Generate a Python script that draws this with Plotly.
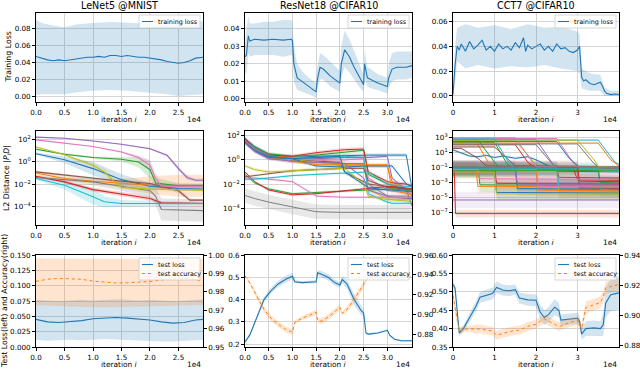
import plotly.graph_objects as go

TAB10 = ["#1f77b4", "#ff7f0e", "#2ca02c", "#d62728", "#9467bd",
         "#8c564b", "#e377c2", "#7f7f7f", "#bcbd22", "#17becf"]
BLUE, ORANGE = TAB10[0], TAB10[1]

TITLES = ["LeNet5 @MNIST", "ResNet18 @CIFAR10", "CCT7 @CIFAR10"]
# x values are in units of 1e4 iterations
X_MAX = [2.93, 3.52, 4.0]
X_TICKS = [[0, 0.5, 1.0, 1.5, 2.0, 2.5], [0, 0.5, 1.0, 1.5, 2.0, 2.5, 3.0], [0, 1, 2, 3]]
X_TICKTEXT = [["0.0", "0.5", "1.0", "1.5", "2.0", "2.5"],
              ["0.0", "0.5", "1.0", "1.5", "2.0", "2.5", "3.0"],
              ["0", "1", "2", "3"]]

# ---------------- row 1: training loss ----------------
lenet_x = [0.0, 0.1, 0.2, 0.3, 0.4, 0.5, 0.6, 0.7, 0.8, 0.9,
           1.0, 1.1, 1.2, 1.3, 1.4, 1.5, 1.6, 1.7, 1.8, 1.9,
           2.0, 2.1, 2.2, 2.3, 2.4, 2.5, 2.6, 2.7, 2.8, 2.93]
lenet_loss = [0.047, 0.045, 0.043, 0.042, 0.043, 0.042, 0.043, 0.044, 0.045, 0.046,
              0.046, 0.047, 0.046, 0.048, 0.048, 0.047, 0.048, 0.047, 0.046, 0.046,
              0.045, 0.044, 0.043, 0.041, 0.040, 0.039, 0.040, 0.042, 0.045, 0.046]
lenet_band_x = [0.0, 0.1, 0.3, 0.5, 0.7, 1.0, 1.3, 1.6, 2.0, 2.3, 2.5, 2.7, 2.93]
lenet_band_hi = [0.090, 0.086, 0.083, 0.081, 0.084, 0.086, 0.087, 0.086, 0.085, 0.084, 0.086, 0.087, 0.088]
lenet_band_lo = [0.002, 0.003, 0.003, 0.003, 0.005, 0.007, 0.008, 0.007, 0.005, 0.003, 0.001, 0.002, 0.003]

resnet_x = [0, 0.03, 0.07, 0.1, 0.2, 0.4, 0.6, 0.8, 0.98, 1.0,
            1.03, 1.1, 1.2, 1.3, 1.4, 1.5, 1.52, 1.58, 1.65, 1.8,
            2.0, 2.03, 2.1, 2.2, 2.3, 2.4, 2.5, 2.52, 2.55, 2.58,
            2.65, 2.8, 3.0, 3.03, 3.1, 3.2, 3.4, 3.52]
resnet_loss = [0.024, 0.025, 0.036, 0.033, 0.034, 0.0335, 0.034, 0.0335, 0.034, 0.033,
               0.020, 0.012, 0.010, 0.008, 0.006, 0.004, 0.010, 0.018, 0.017, 0.013,
               0.009, 0.020, 0.028, 0.024, 0.018, 0.013, 0.008, 0.020, 0.016, 0.012,
               0.011, 0.009, 0.007, 0.012, 0.017, 0.018, 0.018, 0.019]
resnet_band_hi = [0.030, 0.040, 0.047, 0.043, 0.043, 0.044, 0.044, 0.045, 0.045, 0.044,
                  0.030, 0.020, 0.016, 0.013, 0.011, 0.009, 0.017, 0.026, 0.025, 0.021,
                  0.016, 0.030, 0.039, 0.034, 0.027, 0.021, 0.014, 0.028, 0.023, 0.018,
                  0.017, 0.014, 0.012, 0.020, 0.026, 0.027, 0.027, 0.027]
resnet_band_lo = [0.015, 0.014, 0.026, 0.024, 0.025, 0.025, 0.025, 0.024, 0.025, 0.024,
                  0.010, 0.005, 0.004, 0.003, 0.002, 0.0005, 0.005, 0.011, 0.011, 0.007,
                  0.004, 0.012, 0.018, 0.015, 0.011, 0.007, 0.004, 0.012, 0.010, 0.007,
                  0.006, 0.005, 0.003, 0.006, 0.010, 0.011, 0.011, 0.012]

cct_x = [0, 0.05, 0.1, 0.15, 0.2, 0.3, 0.4, 0.5, 0.6, 0.7,
         0.8, 0.9, 1.0, 1.1, 1.2, 1.3, 1.4, 1.5, 1.6, 1.7,
         1.75, 1.8, 1.9, 2.0, 2.1, 2.2, 2.3, 2.4, 2.5, 2.6,
         2.7, 2.8, 2.9, 3.0, 3.05, 3.1, 3.15, 3.2, 3.3, 3.4,
         3.5, 3.55, 3.6, 3.65, 3.7, 3.8, 3.9, 4.0]
cct_loss = [0.001, 0.025, 0.040, 0.037, 0.042, 0.036, 0.044, 0.038, 0.041, 0.045,
            0.037, 0.040, 0.036, 0.042, 0.038, 0.040, 0.037, 0.043, 0.039, 0.047,
            0.036, 0.041, 0.038, 0.040, 0.042, 0.037, 0.040, 0.036, 0.042, 0.038,
            0.039, 0.036, 0.035, 0.037, 0.040, 0.015, 0.012, 0.013, 0.010, 0.009,
            0.010, 0.011, 0.008, 0.004, 0.002, 0.001, 0.0015, 0.001]
cct_band_x = [0, 0.05, 0.1, 0.3, 0.6, 1.0, 1.4, 1.8, 2.2, 2.6, 3.0, 3.05, 3.1, 3.3, 3.55, 3.65, 3.8, 4.0]
cct_band_hi = [0.003, 0.040, 0.055, 0.058, 0.055, 0.057, 0.054, 0.058, 0.055, 0.056,
               0.052, 0.050, 0.022, 0.018, 0.017, 0.007, 0.004, 0.004]
cct_band_lo = [0.0, 0.010, 0.028, 0.022, 0.025, 0.022, 0.024, 0.023, 0.025, 0.022,
               0.020, 0.018, 0.006, 0.004, 0.004, 0.0, 0.0, 0.0]

# ---------------- row 2: L2 distance (log10 values) ----------------
# LeNet5: per line (x, log10 distance, band half-width in decades), tab10 order
lenet_dist = [
    [(0, 0.75, 0.1), (0.5, 0.2, 0.3), (1.0, -0.6, 0.6), (1.5, -1.6, 0.5), (2.0, -2.2, 0.3), (2.5, -2.4, 0.2), (2.93, -2.45, 0.2)],
    [(0, -1.0, 0.2), (0.5, -1.5, 0.2), (1.0, -1.75, 0.2), (1.5, -1.95, 0.4), (2.0, -2.1, 0.8), (2.5, -2.15, 1.0), (2.93, -2.15, 1.0)],
    [(0, 1.15, 0.1), (0.5, 0.7, 0.1), (1.0, 0.4, 0.1), (1.5, 0.25, 0.2), (1.8, 0.0, 0.5), (2.0, -0.7, 0.8), (2.1, -1.9, 0.5), (2.5, -2.15, 0.2), (2.93, -2.15, 0.2)],
    [(0, -1.3, 0.1), (0.5, -1.8, 0.15), (1.0, -2.5, 0.2), (1.5, -2.9, 0.2), (2.0, -3.3, 0.2), (2.2, -3.7, 0.1), (2.93, -3.75, 0.1)],
    [(0, 2.25, 0.05), (0.5, 2.15, 0.05), (1.0, 1.9, 0.05), (1.5, 1.6, 0.05), (2.0, 1.2, 0.1), (2.3, 0.6, 0.1), (2.5, -0.6, 0.2), (2.65, -1.4, 0.2), (2.8, -1.65, 0.15), (2.93, -1.65, 0.15)],
    [(0, -0.9, 0.1), (0.5, -1.2, 0.1), (1.0, -1.5, 0.1), (1.5, -1.75, 0.1), (2.0, -1.95, 0.15), (2.5, -2.6, 0.2), (2.7, -3.45, 0.15), (2.93, -3.45, 0.1)],
    [(0, 2.0, 0.05), (0.5, 1.7, 0.05), (1.0, 1.4, 0.05), (1.5, 0.9, 0.1), (1.8, 0.4, 0.2), (2.0, -0.3, 0.5), (2.1, -1.5, 0.5), (2.2, -2.2, 0.3), (2.93, -2.2, 0.2)],
    [(0, -1.4, 0.1), (0.5, -1.6, 0.2), (1.0, -1.8, 0.3), (1.5, -2.2, 0.4), (2.0, -2.6, 0.6), (2.1, -3.1, 0.8), (2.2, -4.3, 1.0), (2.93, -4.4, 1.0)],
    [(0, 1.35, 0.1), (0.5, 0.65, 0.1), (1.0, -0.3, 0.2), (1.2, -0.9, 0.3), (1.4, -1.9, 0.3), (1.5, -2.3, 0.2), (2.0, -2.45, 0.1), (2.93, -2.55, 0.1)],
    [(0, -1.5, 0.1), (0.5, -2.1, 0.4), (1.0, -3.15, 0.7), (1.2, -3.6, 0.5), (1.5, -3.75, 0.3), (2.93, -3.75, 0.1)],
]

# ResNet18: shared x grid, one row of log10 values per line
resnet_dist_x = [0, 0.2, 0.5, 1.0, 1.5, 2.0, 2.1, 2.5, 2.6, 3.0, 3.1, 3.4, 3.52]
resnet_dist = [
    [1.8, 1.1, 0.45, 0.2, 0.3, 0.35, 0.4, 0.4, 0.4, 0.4, 0.4, 0.4, -2.4],
    [1.6, 1.0, 0.4, 0.2, 0.2, -0.5, -0.5, -0.5, -0.5, -0.5, -1.8, -2.5, -2.7],
    [1.7, 1.1, 0.5, 0.3, 0.4, 0.6, 0.6, 0.8, -1.2, -2.0, -2.1, -2.5, -3.8],
    [1.7, 1.0, 0.4, 0.3, 0.6, 0.8, 0.85, 0.9, -1.0, -1.8, -1.9, -2.0, -2.2],
    [1.6, 1.0, 0.4, 0.0, 0.1, 0.2, 0.2, 0.2, 0.2, 0.3, -1.5, -2.5, -3.0],
    [1.5, 0.9, 0.3, 0.0, -0.1, -0.2, -1.0, -1.8, -2.0, -2.2, -2.3, -2.4, -2.5],
    [1.6, 0.9, 0.3, 0.1, 0.0, 0.0, 0.0, 0.1, -1.5, -2.5, -2.6, -2.7, -2.8],
    [1.5, 0.8, 0.2, -0.1, -0.2, -0.3, -0.3, -0.3, -2.0, -3.0, -3.0, -3.0, -3.1],
    [1.5, 0.8, 0.2, 0.0, -0.2, -0.4, -0.4, -0.5, -2.5, -3.2, -3.3, -3.4, -3.5],
    [1.6, 0.9, 0.3, 0.1, 0.2, 0.3, 0.3, 0.2, -2.8, -3.5, -3.6, -3.6, -3.6],
    [1.4, 0.8, 0.3, 0.1, -0.5, -0.6, -0.6, -0.5, -0.5, -0.5, -0.5, -2.0, -2.2],
    [1.5, 0.8, 0.2, -0.1, -0.4, -0.4, -0.4, -0.4, -0.4, -0.4, -2.5, -2.8, -2.9],
    [-1.2, -1.9, -2.4, -2.8, -2.7, -2.6, -2.6, -2.5, -2.5, -2.4, -2.4, -2.5, -2.5],
    [-1.0, -1.8, -2.5, -2.9, -2.8, -2.6, -2.5, -2.4, -2.3, -2.2, -2.2, -2.3, -2.4],
    [1.4, 0.7, 0.1, -0.1, -0.2, -0.3, -0.3, -1.5, -2.5, -3.0, -3.1, -3.2, -3.2],
    [-1.4, -1.3, -1.1, -0.9, -0.8, -0.7, -0.7, -0.7, -1.7, -2.3, -2.3, -2.4, -2.4],
    [-1.5, -1.5, -1.6, -1.8, -3.0, -3.1, -3.1, -3.1, -3.1, -3.1, -3.1, -3.1, -3.1],
    [-2.95, -3.2, -3.5, -3.9, -4.3, -4.35, -4.35, -4.35, -4.35, -4.35, -4.35, -4.35, -4.35],
    [-0.5, -0.8, -1.0, -0.9, -0.8, -0.7, -0.7, -2.0, -3.0, -3.3, -3.3, -3.3, -3.3],
    [-1.6, -1.6, -1.5, -1.3, -1.2, -1.1, -1.1, -1.0, -1.0, -2.0, -2.1, -2.2, -2.2],
    [1.5, 0.8, 0.2, 0.1, 0.2, 0.3, -1.0, -2.0, -2.3, -2.5, -2.5, -2.6, -2.6],
]
resnet_dist_spread = [0.15, 0.15, 0.15, 0.15, 0.15, 0.15, 0.15, 0.2, 0.15, 0.15,
                      0.15, 0.15, 0.1, 0.1, 0.15, 0.1, 0.1, 0.6, 0.15, 0.1, 0.15]

# CCT7: per line list of (x, log10 distance)
cct_dist = [
    [(0, 1.3), (0.2, 0.9), (0.4, 0.5), (0.6, 0.4), (0.8, 0.6), (1.0, 0.3), (1.2, 0.5), (1.5, 0.2), (1.8, 0.4), (2.0, 0.0), (2.3, -0.8), (2.5, -1.5), (4.0, -1.6)],
    [(0, 2.0), (0.6, 2.0), (0.9, -0.8), (1.0, -1.2), (4.0, -1.3)],
    [(0, 2.3), (1.0, 2.3), (1.3, -0.5), (1.45, -1.3), (4.0, -1.4)],
    [(0, -1.0), (0.03, -1.0), (0.06, -7.1), (4.0, -7.1)],
    [(0, -5.3), (4.0, -5.3)],
    [(0, 1.5), (0.2, 1.5), (0.6, 0.2), (0.8, -0.8), (4.0, -0.9)],
    [(0, 2.8), (2.5, 2.8), (2.9, -0.4), (3.0, -1.0), (4.0, -1.2)],
    [(0, 2.1), (3.0, 2.1), (3.4, -0.5), (3.5, -1.0), (4.0, -1.1)],
    [(0, 2.5), (1.5, 2.5), (1.9, 0.0), (2.0, -0.9), (4.0, -1.0)],
    [(0, 2.6), (3.5, 2.6), (3.9, -0.3), (4.0, -0.6)],
    [(0, 2.4), (2.5, 2.4), (2.8, 0.2), (3.0, -0.8), (3.05, -1.0), (4.0, -1.1)],
    [(0, 2.2), (3.5, 2.2), (3.8, 0.0), (4.0, -0.8)],
    [(0, 2.6), (0.6, 2.6), (1.0, -0.3), (1.1, -1.0), (4.0, -1.1)],
    [(0, 2.0), (1.5, 2.0), (1.8, -0.3), (2.0, -1.2), (2.9, -1.2), (3.0, -2.6), (4.0, -2.7)],
    [(0, 2.7), (2.0, 2.7), (2.4, -0.5), (2.5, -1.0), (4.0, -1.1)],
    [(0, 1.7), (1.0, 1.7), (1.3, 0.2), (1.5, -0.8), (4.0, -0.9)],
    [(0, 2.9), (1.5, 2.9), (1.9, -0.2), (2.0, -0.9), (4.0, -1.0)],
    [(0, 2.0), (2.0, 2.0), (2.4, -0.6), (2.5, -1.0), (4.0, -1.1)],
    [(0, 2.6), (3.0, 2.6), (3.4, 0.0), (3.5, -0.9), (4.0, -1.0)],
    [(0, 2.75), (1.0, 2.75), (1.35, -0.4), (1.5, -1.2), (4.0, -1.3)],
    [(0, -1.0), (1.5, -1.0), (1.55, -3.8), (4.0, -3.9)],
    [(0, -1.2), (0.55, -1.2), (0.6, -3.5), (4.0, -3.6)],
    [(0, -0.9), (0.6, -0.9), (0.65, -3.3), (4.0, -3.4)],
    [(0, -1.1), (1.0, -1.1), (1.05, -3.1), (4.0, -3.2)],
    [(0, -1.3), (2.5, -1.3), (2.55, -4.0), (4.0, -4.0)],
    [(0, -1.2), (3.0, -1.2), (3.05, -3.7), (4.0, -3.8)],
    [(0, -1.0), (2.0, -1.0), (2.05, -3.5), (4.0, -3.6)],
    [(0, -1.0), (4.0, -1.05)],
    [(0, -1.4), (2.5, -1.4), (2.55, -4.2), (4.0, -4.3)],
    [(0, -1.2), (3.5, -1.2), (3.55, -3.9), (4.0, -4.0)],
    [(0, -1.5), (1.0, -1.5), (1.05, -4.3), (4.0, -4.4)],
    [(0, -1.3), (2.0, -1.3), (2.05, -4.0), (4.0, -4.1)],
    [(0, -1.4), (3.5, -1.4), (3.55, -3.0), (4.0, -3.1)],
    [(0, -1.0), (3.0, -1.0), (3.05, -2.8), (4.0, -2.9)],
    [(0, -1.2), (1.5, -1.2), (1.55, -3.2), (4.0, -3.2)],
    [(0, -1.1), (2.5, -1.1), (2.55, -2.3), (4.0, -2.4)],
    [(0, -1.3), (0.6, -1.3), (0.65, -2.5), (4.0, -2.6)],
    [(0, -0.95), (4.0, -0.95)],
    [(0, -1.6), (1.0, -1.6), (1.05, -4.5), (4.0, -4.5)],
    [(0, -1.1), (2.5, -1.1), (2.55, -3.4), (4.0, -3.4)],
]
cct_dist_spread = [0.2, 0.1, 0.1, 0.5, 1.1, 0.1, 0.1, 0.1, 0.1, 0.1,
                   0.1, 0.1, 0.1, 0.1, 0.1, 0.1, 0.1, 0.1, 0.1, 0.1,
                   0.9, 0.9, 0.9, 0.9, 0.9, 0.9, 0.9, 0.15, 0.9, 0.9,
                   0.9, 0.9, 0.9, 0.9, 0.9, 0.9, 0.9, 0.15, 0.9, 0.9]

# ---------------- row 3: test loss / test accuracy ----------------
lenet_test_x = [0, 0.2, 0.4, 0.6, 0.8, 1.0, 1.2, 1.4, 1.6, 1.8, 2.0, 2.2, 2.4, 2.6, 2.8, 2.93]
lenet_test_loss = [0.045, 0.041, 0.040, 0.041, 0.043, 0.046, 0.047, 0.048, 0.047, 0.046,
                   0.044, 0.041, 0.039, 0.040, 0.044, 0.045]
lenet_test_loss_lo = [0.012, 0.010, 0.011, 0.012, 0.011, 0.012, 0.013, 0.012, 0.012, 0.011,
                      0.010, 0.009, 0.009, 0.010, 0.011, 0.012]
lenet_test_loss_hi = [0.077, 0.076, 0.075, 0.076, 0.077, 0.076, 0.077, 0.078, 0.077, 0.076,
                      0.077, 0.076, 0.075, 0.076, 0.077, 0.078]
lenet_test_acc = [0.9857, 0.9868, 0.9873, 0.9872, 0.9868, 0.9858, 0.9853, 0.9848, 0.9849, 0.9851,
                  0.9856, 0.9864, 0.9872, 0.9873, 0.9866, 0.9856]
lenet_test_acc_lo = [0.9727, 0.9725, 0.9722, 0.9720, 0.9718, 0.9716, 0.9715, 0.9716, 0.9717, 0.9718,
                     0.9720, 0.9722, 0.9725, 0.9723, 0.9727, 0.9728]
lenet_test_acc_hi = [0.9983, 0.9982, 0.9983, 0.9981, 0.9980, 0.9978, 0.9977, 0.9976, 0.9977, 0.9978,
                     0.9979, 0.9981, 0.9983, 0.9983, 0.9980, 0.9980]

resnet_test_x = [0, 0.1, 0.25, 0.4, 0.55, 0.7, 0.85, 0.98, 1.0, 1.05,
                 1.2, 1.5, 1.53, 1.6, 1.75, 1.9, 2.0, 2.05, 2.15, 2.3,
                 2.45, 2.5, 2.55, 2.6, 2.8, 3.0, 3.05, 3.15, 3.3, 3.52]
resnet_test_loss = [0.21, 0.24, 0.32, 0.40, 0.44, 0.47, 0.49, 0.505, 0.505, 0.48,
                    0.476, 0.48, 0.52, 0.515, 0.50, 0.475, 0.465, 0.49, 0.47, 0.40,
                    0.35, 0.34, 0.25, 0.245, 0.25, 0.262, 0.24, 0.222, 0.215, 0.215]
resnet_test_loss_sd = [0.005, 0.006, 0.010, 0.012, 0.013, 0.014, 0.015, 0.016, 0.016, 0.008,
                       0.006, 0.008, 0.012, 0.014, 0.015, 0.014, 0.012, 0.015, 0.020, 0.025,
                       0.020, 0.015, 0.006, 0.005, 0.004, 0.005, 0.004, 0.003, 0.003, 0.003]
resnet_test_acc = [0.939, 0.932, 0.918, 0.905, 0.896, 0.890, 0.885, 0.8825, 0.882, 0.892,
                   0.896, 0.902, 0.894, 0.893, 0.897, 0.903, 0.907, 0.901, 0.905, 0.915,
                   0.926, 0.9297, 0.934, 0.938, 0.938, 0.9375, 0.938, 0.938, 0.938, 0.938]
resnet_test_acc_sd = [0.001, 0.002, 0.003, 0.003, 0.003, 0.003, 0.003, 0.003, 0.003, 0.002,
                      0.002, 0.003, 0.002, 0.003, 0.003, 0.003, 0.003, 0.002, 0.003, 0.004,
                      0.004, 0.003, 0.002, 0.001, 0.001, 0.001, 0.001, 0.001, 0.001, 0.001]

cct_test_x = [0, 0.05, 0.15, 0.25, 0.4, 0.55, 0.65, 0.8, 0.95, 1.05,
              1.2, 1.35, 1.5, 1.6, 1.8, 2.0, 2.1, 2.2, 2.3, 2.45,
              2.55, 2.6, 2.8, 3.0, 3.05, 3.1, 3.2, 3.4, 3.55, 3.62,
              3.68, 3.8, 4.0]
cct_test_loss = [0.52, 0.51, 0.388, 0.40, 0.43, 0.46, 0.485, 0.49, 0.495, 0.512,
                 0.505, 0.503, 0.506, 0.483, 0.478, 0.477, 0.445, 0.43, 0.438, 0.458,
                 0.45, 0.423, 0.425, 0.428, 0.42, 0.385, 0.40, 0.402, 0.40, 0.41,
                 0.47, 0.492, 0.497]
cct_test_loss_sd = [0.010, 0.010, 0.008, 0.010, 0.012, 0.014, 0.015, 0.015, 0.016, 0.016,
                    0.015, 0.015, 0.014, 0.015, 0.016, 0.016, 0.020, 0.020, 0.020, 0.022,
                    0.020, 0.015, 0.015, 0.015, 0.015, 0.015, 0.020, 0.020, 0.020, 0.030,
                    0.040, 0.045, 0.045]
cct_test_acc = [0.913, 0.905, 0.8895, 0.8905, 0.891, 0.8905, 0.891, 0.890, 0.8895, 0.8866,
                0.888, 0.889, 0.8898, 0.890, 0.8925, 0.894, 0.896, 0.8975, 0.896, 0.894,
                0.8925, 0.8927, 0.895, 0.8964, 0.894, 0.891, 0.905, 0.907, 0.9084, 0.912,
                0.9182, 0.919, 0.9204]
cct_test_acc_sd = [0.004, 0.004, 0.002, 0.002, 0.002, 0.003, 0.003, 0.003, 0.003, 0.003,
                   0.003, 0.003, 0.003, 0.003, 0.003, 0.003, 0.003, 0.003, 0.003, 0.003,
                   0.003, 0.003, 0.003, 0.003, 0.003, 0.003, 0.004, 0.004, 0.004, 0.004,
                   0.004, 0.004, 0.004]

# ---------------- layout helpers ----------------
W, H = 640, 369
COL_X = [(36, 203), (245, 412), (453, 619)]
ROW_Y = [(13, 102), (131, 225), (255, 347)]


def px_x(p):
    return p / W


def px_y(p):
    return 1 - p / H


def rgba(c, a):
    h = c.lstrip("#")
    return "rgba(%d,%d,%d,%s)" % (int(h[0:2], 16), int(h[2:4], 16), int(h[4:6], 16), a)


def names(k):
    s = "" if k == 1 else str(k)
    return "x" + s, "y" + s


fig = go.Figure()


def band(xs, lo, hi, color, xa, ya, alpha=0.2):
    fig.add_trace(go.Scatter(x=list(xs) + list(xs)[::-1], y=list(hi) + list(lo)[::-1],
                             fill="toself", fillcolor=rgba(color, alpha), line=dict(width=0),
                             mode="lines", hoverinfo="skip", showlegend=False,
                             xaxis=xa, yaxis=ya))


def line(xs, ys, color, xa, ya, width=1.0, dash="solid"):
    fig.add_trace(go.Scatter(x=xs, y=ys, mode="lines", line=dict(color=color, width=width, dash=dash),
                             showlegend=False, xaxis=xa, yaxis=ya))


# row 1
train = [(lenet_x, lenet_loss, lenet_band_x, lenet_band_lo, lenet_band_hi),
         (resnet_x, resnet_loss, resnet_x, resnet_band_lo, resnet_band_hi),
         (cct_x, cct_loss, cct_band_x, cct_band_lo, cct_band_hi)]
for c, (x, y, bx, lo, hi) in enumerate(train):
    xa, ya = names(c + 1)
    band(bx, lo, hi, BLUE, xa, ya, 0.2)
    line(x, y, BLUE, xa, ya, 1.1)

# row 2 - LeNet
xa, ya = names(4)
for i, pts in enumerate(lenet_dist):
    col = TAB10[i % 10]
    xs = [p[0] for p in pts]
    band(xs, [10 ** (p[1] - p[2]) for p in pts], [10 ** (p[1] + p[2]) for p in pts], col, xa, ya, 0.2)
for i, pts in enumerate(lenet_dist):
    line([p[0] for p in pts], [10 ** p[1] for p in pts], TAB10[i % 10], xa, ya, 1.1)

# row 2 - ResNet
xa, ya = names(5)
for i, vals in enumerate(resnet_dist):
    s = resnet_dist_spread[i]
    band(resnet_dist_x, [10 ** (v - s) for v in vals], [10 ** (v + s) for v in vals], TAB10[i % 10], xa, ya, 0.18)
for i, vals in enumerate(resnet_dist):
    line(resnet_dist_x, [10 ** v for v in vals], TAB10[i % 10], xa, ya, 1.0)

# row 2 - CCT
xa, ya = names(6)
for i, pts in enumerate(cct_dist):
    s = cct_dist_spread[i]
    xs = [p[0] for p in pts]
    band(xs, [10 ** (p[1] - s) for p in pts], [10 ** (p[1] + s) for p in pts], TAB10[i % 10], xa, ya, 0.12)
for i, pts in enumerate(cct_dist):
    line([p[0] for p in pts], [10 ** p[1] for p in pts], TAB10[i % 10], xa, ya, 1.0)

# row 3
test = [(lenet_test_x, lenet_test_loss, lenet_test_loss_lo, lenet_test_loss_hi,
         lenet_test_acc, lenet_test_acc_lo, lenet_test_acc_hi),
        (resnet_test_x, resnet_test_loss,
         [a - b for a, b in zip(resnet_test_loss, resnet_test_loss_sd)],
         [a + b for a, b in zip(resnet_test_loss, resnet_test_loss_sd)],
         resnet_test_acc,
         [a - b for a, b in zip(resnet_test_acc, resnet_test_acc_sd)],
         [a + b for a, b in zip(resnet_test_acc, resnet_test_acc_sd)]),
        (cct_test_x, cct_test_loss,
         [a - b for a, b in zip(cct_test_loss, cct_test_loss_sd)],
         [a + b for a, b in zip(cct_test_loss, cct_test_loss_sd)],
         cct_test_acc,
         [a - b for a, b in zip(cct_test_acc, cct_test_acc_sd)],
         [a + b for a, b in zip(cct_test_acc, cct_test_acc_sd)])]
for c, (x, l, llo, lhi, a, alo, ahi) in enumerate(test):
    xa, ya = names(7 + c)
    ya2 = "y" + str(10 + c)
    band(x, llo, lhi, BLUE, xa, ya, 0.2)
    line(x, l, BLUE, xa, ya, 1.1)
    band(x, alo, ahi, ORANGE, xa, ya2, 0.2)
    line(x, a, ORANGE, xa, ya2, 1.0, dash="dot")

# ---------------- axes ----------------
axis_base = dict(showline=True, mirror=True, linecolor="black", linewidth=0.8,
                 ticks="outside", ticklen=3, tickwidth=0.8, tickcolor="black",
                 showgrid=True, gridcolor="#d4d4d4", gridwidth=1, zeroline=False,
                 automargin=False, tickfont=dict(size=7.2))

ROW1_RANGE = [[-0.006, 0.0975], [-0.0018, 0.049], [-0.005, 0.067]]
ROW1_TICKS = [[0, 0.02, 0.04, 0.06, 0.08], [0, 0.01, 0.02, 0.03, 0.04], [0, 0.02, 0.04, 0.06]]
ROW2_RANGE = [[-5.7, 2.8], [-5.4, 2.4], [-8.6, 3.8]]
ROW2_EXP = [[-4, -2, 0, 2], [-4, -2, 0, 2], [-7, -5, -3, -1, 1, 3]]
ROW3_RANGE = [[0, 0.15], [0.187, 0.6], [0.35, 0.6]]
ROW3_TICKS = [[0, 0.025, 0.05, 0.075, 0.1, 0.125, 0.15], [0.2, 0.3, 0.4, 0.5, 0.6],
              [0.35, 0.4, 0.45, 0.5, 0.55, 0.6]]
ROW3_FMT = [".3f", ".1f", ".2f"]
ROW3_R_RANGE = [[0.95, 1.0], [0.867, 0.96], [0.8788, 0.94]]
ROW3_R_TICKS = [[0.95, 0.96, 0.97, 0.98, 0.99, 1.0], [0.88, 0.9, 0.92, 0.94, 0.96],
                [0.88, 0.9, 0.92, 0.94]]


def sup(e):
    return "10<sup>%s</sup>" % (str(e).replace("-", "\u2212"))


for r in range(3):
    for c in range(3):
        k = r * 3 + c + 1
        xs = "" if k == 1 else str(k)
        dom_x = [px_x(COL_X[c][0]), px_x(COL_X[c][1])]
        dom_y = [px_y(ROW_Y[r][1]), px_y(ROW_Y[r][0])]
        fig.layout["xaxis" + xs] = dict(axis_base, domain=dom_x, anchor="y" + xs,
                                        range=[0, X_MAX[c]], tickvals=X_TICKS[c],
                                        ticktext=X_TICKTEXT[c])
        if r == 0:
            ya = dict(axis_base, range=ROW1_RANGE[c], tickvals=ROW1_TICKS[c], tickformat=".2f")
        elif r == 1:
            ya = dict(axis_base, type="log", range=ROW2_RANGE[c],
                      tickvals=[10 ** e for e in ROW2_EXP[c]],
                      ticktext=[sup(e) for e in ROW2_EXP[c]])
        else:
            ya = dict(axis_base, range=ROW3_RANGE[c], tickvals=ROW3_TICKS[c], tickformat=ROW3_FMT[c])
        fig.layout["yaxis" + xs] = dict(ya, domain=dom_y, anchor="x" + xs)
        if r == 2:
            fig.layout["yaxis" + str(10 + c)] = dict(
                axis_base, showgrid=False, mirror=False, overlaying="y" + xs, anchor="x" + xs,
                side="right", domain=dom_y, range=ROW3_R_RANGE[c], tickvals=ROW3_R_TICKS[c],
                tickformat=".2f")

# ---------------- legends (drawn as boxes, sample lines and text) ----------------
shapes = []
ann = []


def legend_box(x1, y0, entries):
    w, h = 61, 4 + 9 * len(entries)
    x0 = x1 - w
    shapes.append(dict(type="rect", xref="paper", yref="paper",
                       x0=px_x(x0), x1=px_x(x1), y0=px_y(y0 + h), y1=px_y(y0),
                       fillcolor="rgba(255,255,255,0.8)", line=dict(color="#cccccc", width=0.8)))
    for j, (label, color, dash) in enumerate(entries):
        yy = y0 + 6.5 + 9 * j
        shapes.append(dict(type="line", xref="paper", yref="paper",
                           x0=px_x(x0 + 3), x1=px_x(x0 + 14), y0=px_y(yy), y1=px_y(yy),
                           line=dict(color=color, width=1.1, dash=dash)))
        ann.append(dict(text=label, x=px_x(x0 + 17), y=px_y(yy), xanchor="left", yanchor="middle",
                        font=dict(size=6.4), showarrow=False))


for c in range(3):
    legend_box(COL_X[c][1] - 3, ROW_Y[0][0] + 2, [("training loss", BLUE, "solid")])
    legend_box(COL_X[c][1] - 3, ROW_Y[2][0] + 3, [("test loss", BLUE, "solid"),
                                                   ("test accuracy", ORANGE, "dot")])

# ---------------- text ----------------
for c in range(3):
    mid = (COL_X[c][0] + COL_X[c][1]) / 2
    ann.append(dict(text=TITLES[c], x=px_x(mid), y=px_y(6), xanchor="center", yanchor="middle",
                    font=dict(size=9.6), showarrow=False, borderpad=0))
    for r, ly in enumerate([119.5, 242, 364]):
        ann.append(dict(text="iteration <i>i</i>", x=px_x(mid), y=px_y(ly), xanchor="center",
                        yanchor="middle", font=dict(size=7.4), showarrow=False))
        ann.append(dict(text="1e4", x=px_x(COL_X[c][1]), y=px_y(ly), xanchor="right",
                        yanchor="middle", font=dict(size=7.4), showarrow=False))

for r, (txt, xp) in enumerate([("Training Loss", 8), ("L2 Distance |<i>P<sub>i</sub>D</i>|", 7),
                               ("Test Loss(left) and Accuracy(right)", 4)]):
    ymid = (ROW_Y[r][0] + ROW_Y[r][1]) / 2
    ann.append(dict(text=txt, x=px_x(xp), y=px_y(ymid), xanchor="center", yanchor="middle",
                    textangle=-90, font=dict(size=7.8), showarrow=False))

for a in ann:
    a.update(xref="paper", yref="paper")

fig.update_layout(
    width=W, height=H, margin=dict(l=0, r=0, t=0, b=0),
    paper_bgcolor="white", plot_bgcolor="white", showlegend=False,
    font=dict(family="DejaVu Sans", size=7.4, color="black"),
    annotations=ann, shapes=shapes,
)

# the page body has a default 8px margin; drop it so the figure sits at the window origin
fig.write_html("out.html", config={"displayModeBar": False},
               post_script="document.body.style.margin='0';")
